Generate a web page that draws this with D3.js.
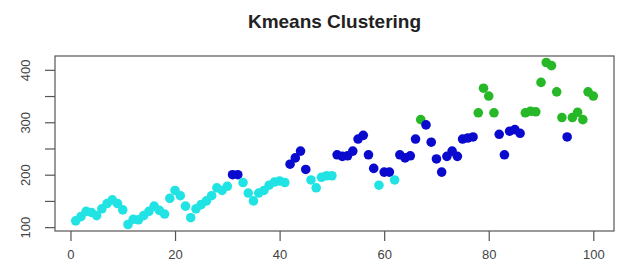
<!DOCTYPE html>
<html>
<head>
<meta charset="utf-8">
<script src="https://cdn.jsdelivr.net/npm/d3@7"></script>
<style>
    body { margin: 0; background: #fff; }
    svg { display: block; font-family: "Liberation Sans", Arial, sans-serif; }
</style>
</head>
<body>
<svg id="chart"></svg>
<script>
// values, one point per index 1..100
const values = [
    112, 120, 130, 128, 122, 135, 145, 152, 145, 133,
    105, 115, 114, 122, 130, 140, 132, 125, 155, 170,
    160, 140, 118, 135, 143, 150, 160, 175, 170, 178,
    200, 200, 185, 165, 150, 165, 170, 180, 186, 188,
    185, 220, 232, 245, 210, 190, 175, 195, 198, 198,
    238, 235, 236, 245, 268, 275, 238, 212, 180, 205,
    205, 190, 238, 232, 236, 268, 305, 295, 262, 230,
    205, 235, 245, 235, 268, 270, 272, 318, 365, 350,
    318, 277, 238, 283, 286, 279, 318, 321, 320, 376,
    414, 408, 358, 309, 272, 309, 319, 305, 358, 350
];
// cluster of each point: 1 = low, 2 = middle, 3 = high
const clusters = [
    1, 1, 1, 1, 1, 1, 1, 1, 1, 1,
    1, 1, 1, 1, 1, 1, 1, 1, 1, 1,
    1, 1, 1, 1, 1, 1, 1, 1, 1, 1,
    2, 2, 1, 1, 1, 1, 1, 1, 1, 1,
    1, 2, 2, 2, 2, 1, 1, 1, 1, 1,
    2, 2, 2, 2, 2, 2, 2, 2, 1, 2,
    2, 1, 2, 2, 2, 2, 3, 2, 2, 2,
    2, 2, 2, 2, 2, 2, 2, 3, 3, 3,
    3, 2, 2, 2, 2, 2, 3, 3, 3, 3,
    3, 3, 3, 3, 2, 3, 3, 3, 3, 3
];
const xTicks = [0, 20, 40, 60, 80, 100];
const yTicks = [100, 150, 200, 250, 300, 350, 400];
const yLabels = [100, 200, 300, 400];

const colors = { 1: "#22e3e3", 2: "#0a0acf", 3: "#26b826" };

const width = 618, height = 266;
const box = { left: 55, right: 614, top: 56, bottom: 231 };

const svg = d3.select("#chart")
    .attr("width", width)
    .attr("height", height);

const data = values.map((v, i) => ({ idx: i + 1, value: v, cluster: clusters[i] }));

// R style 4% padding on both axes
const xExt = d3.extent(data, d => d.idx);
const yExt = d3.extent(data, d => d.value);
const xPad = (xExt[1] - xExt[0]) * 0.04;
const yPad = (yExt[1] - yExt[0]) * 0.04;

const x = d3.scaleLinear()
    .domain([xExt[0] - xPad, xExt[1] + xPad])
    .range([box.left, box.right]);

const y = d3.scaleLinear()
    .domain([yExt[0] - yPad, yExt[1] + yPad])
    .range([box.bottom, box.top]);

// title
svg.append("text")
    .attr("x", (box.left + box.right) / 2)
    .attr("y", 28)
    .attr("text-anchor", "middle")
    .style("font-size", "19px")
    .style("font-weight", "bold")
    .style("fill", "#222")
    .text("Kmeans Clustering");

// points
svg.append("g")
    .selectAll("circle")
    .data(data)
    .enter().append("circle")
    .attr("cx", d => x(d.idx))
    .attr("cy", d => y(d.value))
    .attr("r", 4.8)
    .attr("fill", d => colors[d.cluster]);

// frame
svg.append("rect")
    .attr("x", box.left)
    .attr("y", box.top)
    .attr("width", box.right - box.left)
    .attr("height", box.bottom - box.top)
    .attr("fill", "none")
    .attr("stroke", "#555")
    .attr("stroke-width", 1.2);

// x axis
const xAxis = svg.append("g")
    .attr("transform", "translate(0," + box.bottom + ")")
    .call(d3.axisBottom(x).tickValues(xTicks).tickSize(10).tickPadding(9));

// y axis
const yAxis = svg.append("g")
    .attr("transform", "translate(" + box.left + ",0)")
    .call(d3.axisLeft(y).tickValues(yTicks).tickSize(10)
        .tickFormat(d => yLabels.includes(d) ? d : ""));

[xAxis, yAxis].forEach(g => {
    g.select(".domain").remove();
    g.selectAll(".tick line").attr("stroke", "#555").attr("stroke-width", 1.2);
    g.selectAll(".tick text")
        .style("font-size", "13px")
        .style("font-family", "Liberation Sans, Arial, sans-serif")
        .attr("fill", "#444");
});

// rotate y labels like R's default
yAxis.selectAll(".tick text")
    .attr("x", null)
    .attr("dy", null)
    .attr("text-anchor", "middle")
    .attr("transform", "translate(-25,0) rotate(-90)")
    .attr("y", 0);
</script>
</body>
</html>
